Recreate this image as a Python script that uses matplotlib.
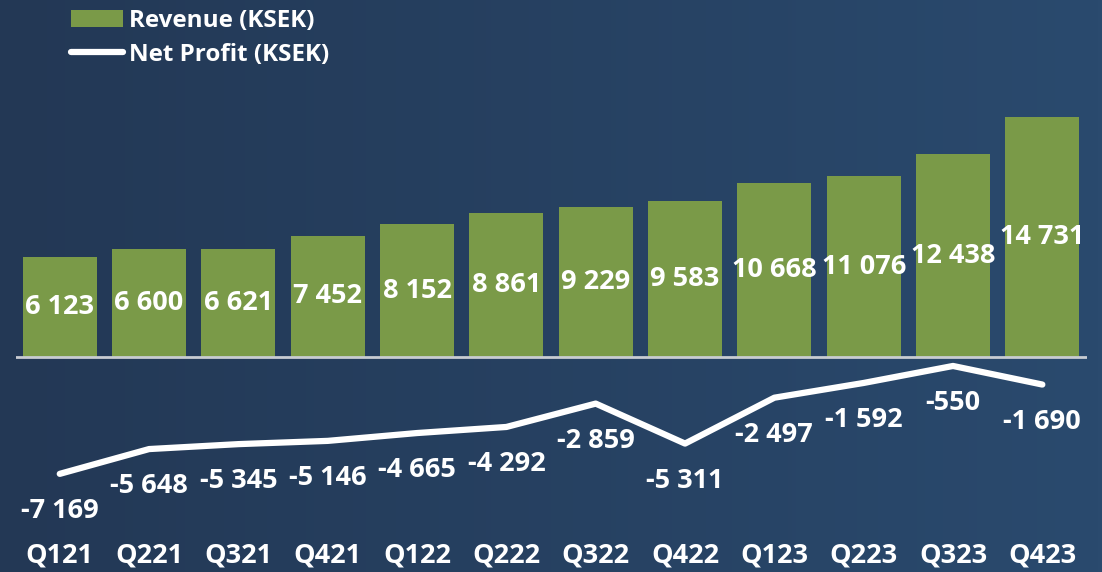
import matplotlib
matplotlib.use("Agg")
import matplotlib.pyplot as plt
import numpy as np
from matplotlib.patches import Patch
from matplotlib.lines import Line2D
from matplotlib.colors import LinearSegmentedColormap

quarters = ["Q121", "Q221", "Q321", "Q421", "Q122", "Q222", "Q322", "Q422",
            "Q123", "Q223", "Q323", "Q423"]
revenue = [6123, 6600, 6621, 7452, 8152, 8861, 9229, 9583, 10668, 11076, 12438, 14731]
net_profit = [-7169, -5648, -5345, -5146, -4665, -4292, -2859, -5311, -2497, -1592, -550, -1690]

def fmt(v):
    return f"{v:,}".replace(",", " ")

FONT = "Open Sans"
plt.rcParams['font.family'] = [FONT, 'DejaVu Sans']
plt.rcParams['font.weight'] = 'bold'

W, H = 1102, 572
fig = plt.figure(figsize=(W / 100, H / 100), dpi=100)

# gradient background
bg = fig.add_axes([0, 0, 1, 1], zorder=0)
cmap = LinearSegmentedColormap.from_list("bg", ["#233855", "#2a4a6e"])
grad = np.linspace(0, 1, 256).reshape(1, -1)
bg.imshow(grad, aspect="auto", cmap=cmap, extent=[0, 1, 0, 1])
bg.set_axis_off()

k = 0.0163  # px per unit
base_px = 357
top_px, bot_px = 100, 530
ymax = (base_px - top_px) / k
ymin = -(bot_px - base_px) / k
ax = fig.add_axes([16 / W, (H - bot_px) / H, 1071 / W, (bot_px - top_px) / H], zorder=1)
ax.patch.set_alpha(0)
x = np.arange(len(quarters))
ax.set_xlim(-0.49, 11.5)
ax.set_ylim(ymin, ymax)

green = "#7a9a48"
ax.bar(x, revenue, width=0.83, color=green, zorder=2)
ax.axhline(0, color="#c8ccd2", lw=2, zorder=3)
ax.plot(x, net_profit, color="white", lw=4.5, solid_capstyle="round", zorder=4)

FS = 19.5
for xi, v in zip(x, revenue):
    ax.text(xi, v / 2, fmt(v), ha="center", va="center", color="white",
            fontsize=FS, fontweight="bold", zorder=5)
for xi, v in zip(x, net_profit):
    ax.annotate(fmt(v), (xi, v), xytext=(0, -37), textcoords="offset pixels",
                ha="center", va="center", color="white", fontsize=FS,
                fontweight="bold", zorder=5)

ax.set_xticks(x)
ax.set_xticklabels(quarters, color="white", fontsize=19.5, fontweight="bold")
ax.tick_params(axis="x", length=0, pad=9)
ax.set_yticks([])
for s in ax.spines.values():
    s.set_visible(False)

handles = [Patch(facecolor=green, edgecolor="none"),
           Line2D([0], [0], color="white", lw=4.5, solid_capstyle="round")]
leg = fig.legend(handles, ["Revenue (KSEK)", "Net Profit (KSEK)"],
                 loc="upper left", bbox_to_anchor=(71 / W, 1 - 9 / H),
                 frameon=False, fontsize=17.5, handlelength=2.15, handleheight=0.65,
                 handletextpad=0.25, labelspacing=0.4, borderpad=0, borderaxespad=0)
for t in leg.get_texts():
    t.set_color("white")
    t.set_fontweight("bold")

fig.savefig("out.png", dpi=100)
